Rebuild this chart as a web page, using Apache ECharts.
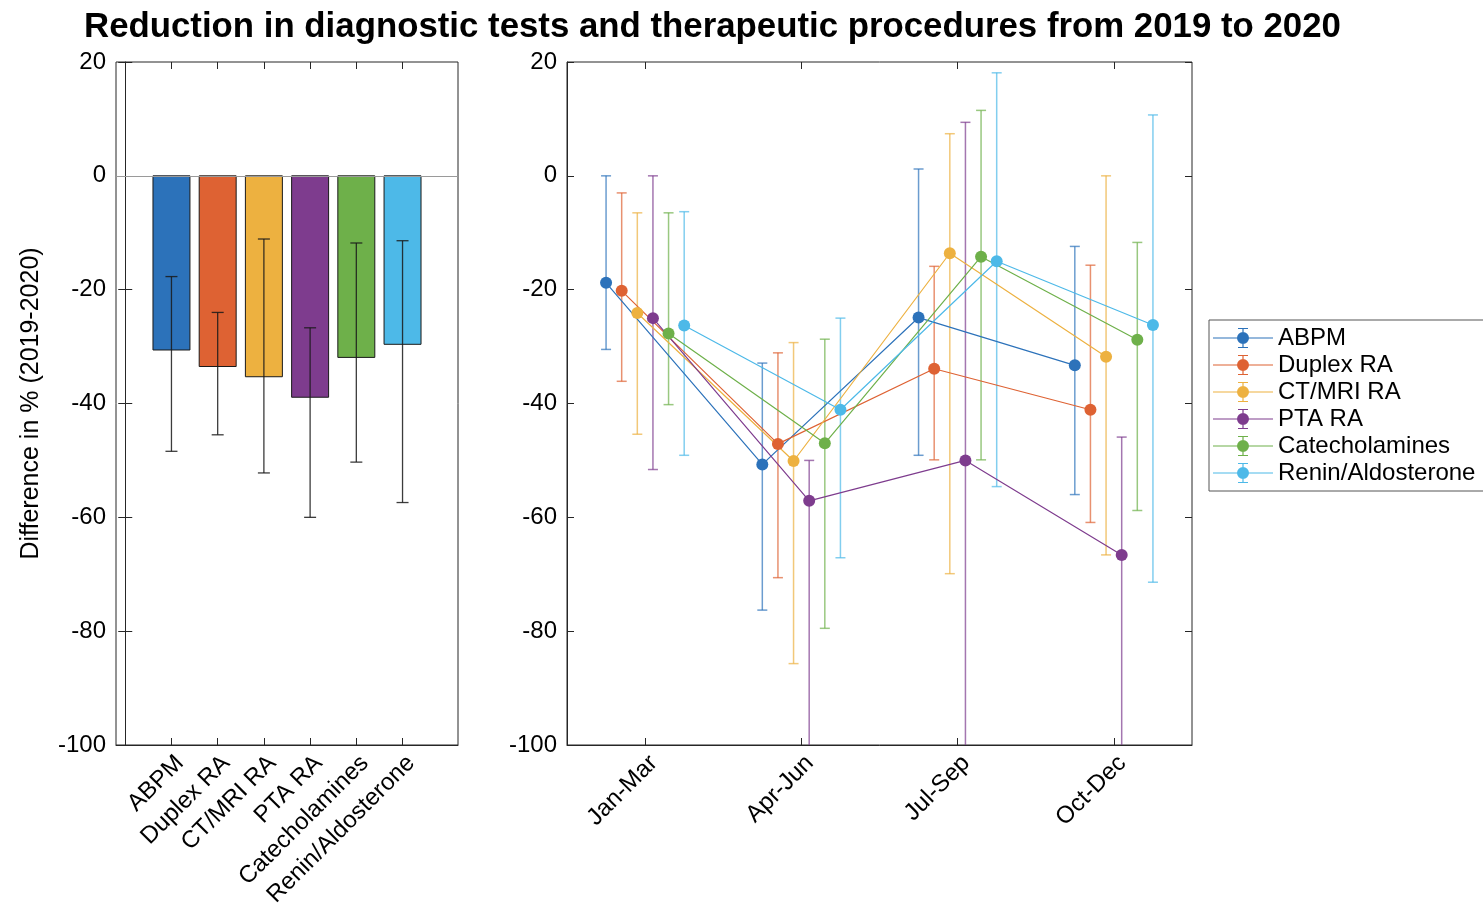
<!DOCTYPE html>
<html>
<head>
<meta charset="utf-8">
<script src="https://cdn.jsdelivr.net/npm/echarts@6/dist/echarts.min.js"></script>
<style>
  html, body { margin: 0; background: #fff; }
  #chart { width: 1483px; height: 905px; }
</style>
</head>
<body>
<div id="chart"></div>
<script>
// tests and quarters
const tests = ['ABPM', 'Duplex RA', 'CT/MRI RA', 'PTA RA', 'Catecholamines', 'Renin/Aldosterone'];
const quarters = ['Jan-Mar', 'Apr-Jun', 'Jul-Sep', 'Oct-Dec'];
const colors = ['#2C72BA', '#DE6233', '#EDB140', '#7E3C8E', '#6EB04A', '#4DB9E8'];

// whole year difference 2019 -> 2020 (left panel)
const totalMean = [-30.6, -33.5, -35.3, -38.9, -31.9, -29.6];
const totalLow = [-48.4, -45.5, -52.2, -60.0, -50.3, -57.4];
const totalHigh = [-17.7, -24.0, -11.1, -26.7, -11.8, -11.4];

// per quarter, one row per test (right panel)
const quarterMean = [
  [-18.8, -50.7, -24.9, -33.3],
  [-20.2, -47.1, -33.9, -41.1],
  [-24.1, -50.1, -13.6, -31.8],
  [-25.0, -57.1, -50.0, -66.6],
  [-27.7, -47.0, -14.2, -28.8],
  [-26.3, -41.1, -15.0, -26.2]
];
const quarterLow = [
  [-30.5, -76.3, -49.1, -56.0],
  [-36.1, -70.6, -49.9, -60.9],
  [-45.4, -85.7, -69.9, -66.6],
  [-51.6, -110, -110, -110],
  [-40.2, -79.5, -49.9, -58.8],
  [-49.1, -67.1, -54.6, -71.4]
];
const quarterHigh = [
  [0.0, -32.9, 1.2, -12.4],
  [-3.0, -31.1, -15.9, -15.7],
  [-6.5, -29.3, 7.4, 0.0],
  [0.0, -50.0, 9.4, -45.9],
  [-6.5, -28.7, 11.5, -11.7],
  [-6.3, -25.0, 18.1, 10.7]
];

const Y_MIN = -100, Y_MAX = 20;
const FONT = '"Liberation Sans", Arial, sans-serif';
const INK = '#262626';

// 误差线
function errorBar(capHalf, stroke, width, opacity) {
  return (params, api) => {
    const x = api.value(0), lo = api.value(1), hi = api.value(2);
    const clipped = lo < Y_MIN;
    const top = api.coord([x, Math.min(hi, Y_MAX)]);
    const bot = api.coord([x, Math.max(lo, Y_MIN)]);
    const style = { stroke: stroke, lineWidth: width, opacity: opacity };
    const children = [
      { type: 'line', shape: { x1: top[0], y1: top[1], x2: bot[0], y2: bot[1] }, style: style },
      { type: 'line', shape: { x1: top[0] - capHalf, y1: top[1], x2: top[0] + capHalf, y2: top[1] }, style: style }
    ];
    if (!clipped) {
      children.push({ type: 'line', shape: { x1: bot[0] - capHalf, y1: bot[1], x2: bot[0] + capHalf, y2: bot[1] }, style: style });
    }
    return { type: 'group', children: children };
  };
}

function yAxes(gridIndex, withName) {
  return [{
    gridIndex: gridIndex, type: 'value', min: Y_MIN, max: Y_MAX, interval: 20,
    name: withName ? 'Difference in % (2019-2020)' : '',
    nameLocation: 'middle', nameGap: 72,
    nameTextStyle: { fontSize: 25, color: '#000', fontFamily: FONT },
    axisLine: { show: true, lineStyle: { color: INK } },
    axisTick: { inside: true, length: 7, lineStyle: { color: INK } },
    axisLabel: { fontSize: 24, color: '#000', fontFamily: FONT, margin: 10 },
    splitLine: { show: false }
  }, {
    gridIndex: gridIndex, type: 'value', min: Y_MIN, max: Y_MAX, interval: 20, position: 'right',
    axisLine: { show: false },
    axisTick: { inside: true, length: 7, lineStyle: { color: INK } },
    axisLabel: { show: false },
    splitLine: { show: false }
  }];
}

function xAxes(gridIndex, min, max, ticks, names) {
  return [{
    gridIndex: gridIndex, type: 'value', min: min, max: max,
    axisLine: { show: true, onZero: false, lineStyle: { color: INK } },
    axisTick: { inside: true, length: 7, customValues: ticks, lineStyle: { color: INK } },
    axisLabel: {
      customValues: ticks, rotate: 45, fontSize: 24, color: '#000', fontFamily: FONT, margin: 6,
      verticalAlign: 'top',
      formatter: v => names[Math.round(v) - 1]
    },
    splitLine: { show: false }
  }, {
    gridIndex: gridIndex, type: 'value', min: min, max: max, position: 'top',
    axisLine: { show: false, onZero: false },
    axisTick: { inside: true, length: 7, customValues: ticks, lineStyle: { color: INK } },
    axisLabel: { show: false },
    splitLine: { show: false }
  }];
}

const barTicks = tests.map((t, i) => i + 1);
const quarterTicks = quarters.map((q, i) => i + 1);
// horizontal shift of each test inside a quarter
const shift = i => (i - 2.5) * 0.1;

const series = [];

// left panel bars
series.push({
  type: 'custom', xAxisIndex: 0, yAxisIndex: 0, z: 2,
  data: totalMean.map((v, i) => [i + 1, v]),
  renderItem: (params, api) => {
    const x = api.value(0), v = api.value(1);
    const a = api.coord([x - 0.4, 0]);
    const b = api.coord([x + 0.4, v]);
    return {
      type: 'rect',
      shape: { x: a[0], y: a[1], width: b[0] - a[0], height: b[1] - a[1] },
      style: { fill: colors[params.dataIndex], stroke: '#1a1a1a', lineWidth: 1 }
    };
  },
  markLine: {
    silent: true, symbol: 'none', label: { show: false },
    lineStyle: { color: '#9a9a9a', type: 'solid', width: 1 },
    data: [{ yAxis: 0 }]
  }
});
series.push({
  type: 'custom', xAxisIndex: 0, yAxisIndex: 0, z: 3,
  data: totalMean.map((v, i) => [i + 1, totalLow[i], totalHigh[i]]),
  renderItem: errorBar(6, '#1a1a1a', 1.3, 0.85)
});

// right panel lines and error bars
tests.forEach((name, i) => {
  series.push({
    name: name, type: 'line', xAxisIndex: 2, yAxisIndex: 2, z: 4,
    color: colors[i],
    symbol: 'circle', symbolSize: 12,
    lineStyle: { width: 1.2, color: colors[i] },
    itemStyle: { color: colors[i] },
    data: quarterMean[i].map((v, q) => [q + 1 + shift(i), v])
  });
});
tests.forEach((name, i) => {
  series.push({
    name: name, type: 'custom', xAxisIndex: 2, yAxisIndex: 2, z: 2,
    itemStyle: { color: colors[i] },
    data: quarterMean[i].map((v, q) => [q + 1 + shift(i), quarterLow[i][q], quarterHigh[i][q]]),
    renderItem: errorBar(5, colors[i], 1.5, 0.7)
  });
});

// legend icon: line + error bar + marker
const legendIcon = 'path://M0 10.4H60V11.6H0Z M29.4 1H30.6V21H29.4Z M25 1H35V2H25Z M25 20H35V21H25Z ' +
  'M24 11A6 6 0 1 1 36 11A6 6 0 1 1 24 11Z';

const chart = echarts.init(document.getElementById('chart'), null, { renderer: 'canvas' });
chart.setOption({
  backgroundColor: '#fff',
  animation: false,
  title: {
    text: 'Reduction in diagnostic tests and therapeutic procedures from 2019 to 2020',
    left: 79, top: 5,
    textStyle: { fontSize: 34.8, fontWeight: 'bold', color: '#000', fontFamily: FONT }
  },
  legend: {
    data: tests,
    left: 1209, top: 320, orient: 'vertical',
    icon: legendIcon, itemWidth: 60, itemHeight: 20, itemGap: 3,
    padding: [6, 40, 6, 4],
    borderColor: '#555', borderWidth: 1,
    textStyle: { fontSize: 24, lineHeight: 23, color: '#000', fontFamily: FONT }
  },
  grid: [
    { left: 116, top: 62, width: 342, height: 683, outerBoundsMode: 'none', show: true, borderColor: INK, borderWidth: 1, backgroundColor: 'transparent' },
    { left: 567, top: 62, width: 625, height: 683, outerBoundsMode: 'none', show: true, borderColor: INK, borderWidth: 1, backgroundColor: 'transparent' }
  ],
  xAxis: [].concat(xAxes(0, -0.2, 7.2, barTicks, tests), xAxes(1, 0.5, 4.5, quarterTicks, quarters)),
  yAxis: [].concat(yAxes(0, true), yAxes(1, false)),
  series: series
});
</script>
</body>
</html>
